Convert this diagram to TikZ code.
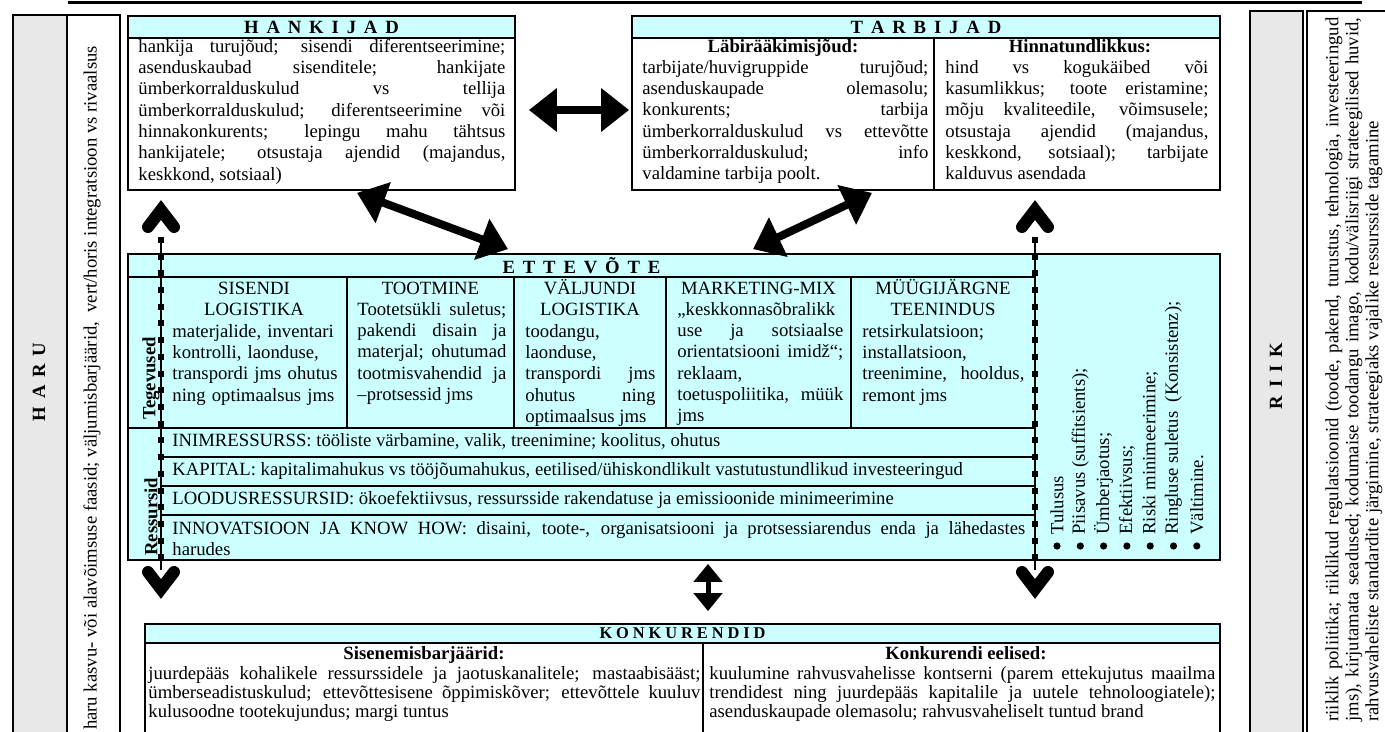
\documentclass[tikz,border=0pt]{standalone}
\usepackage{fontspec}
\setmainfont{Liberation Serif}
\usetikzlibrary{arrows.meta}
\definecolor{lightcyan}{RGB}{204,255,255}
\definecolor{sidegray}{RGB}{232,232,232}
\newcommand{\bodyfont}{\fontsize{9.35}{10.65}\selectfont}
\newcommand{\riikfont}{\fontsize{9.35}{10}\selectfont}
\newcommand{\konfont}{\fontsize{9.35}{9.6}\selectfont}
\newcommand{\hdrfont}{\fontsize{9.35}{10.65}\selectfont\bfseries\spaceskip=0.42em\relax}
\newcommand{\konhdrfont}{\fontsize{8.2}{9}\selectfont\bfseries\spaceskip=0.24em\relax}

\begin{document}
\begin{tikzpicture}[x=0.5pt,y=-0.5pt,
  box/.style={draw, line width=0.9pt, inner sep=0pt},
  band/.style={draw, line width=0.9pt, fill=lightcyan, inner sep=0pt, anchor=north, font=\hdrfont},
  txt/.style={inner sep=0pt, anchor=north west, align=justify, font=\bodyfont},
  colhead/.style={inner sep=0pt, anchor=north, align=center, font=\bodyfont},
  subhead/.style={inner sep=0pt, anchor=north, font=\bodyfont\bfseries},
  rule/.style={line width=0.75pt},
  squares/.style={line width=3pt, dash pattern=on 3pt off 5.35pt},
  chevron/.style={line width=6pt, line cap=round, line join=miter},
  bigarrow/.style={line width=4pt, {Triangle[length=14pt,width=21pt]}-{Triangle[length=14pt,width=21pt]}},
  smallarrow/.style={line width=2.5pt, {Triangle[length=9pt,width=14pt]}-{Triangle[length=9pt,width=14pt]}},
  dot/.style={circle, fill, inner sep=0pt, minimum size=3.6pt}]
  \useasboundingbox (0,0) rectangle (1385,732);
  \draw[line width=1.5pt] (68,3) -- (1362,3);

  \node[box, fill=sidegray, minimum width=27pt, minimum height=365pt] (haru) at (40,380) {};
  \node[box, minimum width=26.5pt, minimum height=365pt] (harubox) at (93.5,380) {};
  \node[rotate=90, inner sep=0pt, font=\hdrfont] (harulabel) at (39,382) {H A R U};
  \node[rotate=90, inner sep=0pt, font=\bodyfont] (harutext) at (92,388) {haru kasvu- või alavõimsuse faasid; väljumisbarjäärid,\ \ vert/horis integratsioon vs rivaalsus};

  \node[box, fill=sidegray, minimum width=26.5pt, minimum height=367pt] (riik) at (1276.5,378) {};
  \node[box, minimum width=40.5pt, minimum height=367pt] (riikbox) at (1347.5,378) {};
  \node[rotate=90, inner sep=0pt, font=\hdrfont] (riiklabel) at (1276,376) {R I I K};
  \node[txt, rotate=90, text width=352pt, font=\riikfont] (riiktext) at (1324,722) {\strut riiklik poliitika; riiklikud regulatsioonid (toode, pakend, turustus, tehnologia, investeeringud\linebreak jms), kirjutamata seadused; kodumaise toodangu imago, kodu/välisriigi strateegilised huvid,\linebreak rahvusvaheliste standardite järgimine, strateegiaks vajalike ressursside tagamine};

  \node[box, minimum width=193.5pt, minimum height=87pt] (hankijad) at (321.5,103) {};
  \node[band, minimum width=193.5pt, minimum height=11pt] (hankijadhdr) at (hankijad.north) {H A N K I J A D};
  \node[txt, text width=183.5pt] (hankijadtxt) at (138,37) {\strut hankija turujõud; sisendi diferentseerimine;\linebreak asenduskaubad sisenditele; hankijate\linebreak ümberkorralduskulud vs tellija\linebreak ümberkorralduskulud; diferentseerimine või\linebreak hinnakonkurents; lepingu mahu tähtsus\linebreak hankijatele; otsustaja ajendid (majandus,\linebreak keskkond, sotsiaal)};

  \node[box, minimum width=294pt, minimum height=87pt] (tarbijad) at (926,103) {};
  \node[band, minimum width=294pt, minimum height=11pt] (tarbijadhdr) at (tarbijad.north) {T A R B I J A D};
  \draw[rule] (934,38) -- (934,190);
  \node[subhead] (labihead) at (783,37) {\strut Läbirääkimisjõud:};
  \node[txt, text width=143pt] (labitxt) at (642,58) {\strut tarbijate/huvigruppide turujõud;\linebreak asenduskaupade olemasolu;\linebreak konkurents; tarbija\linebreak ümberkorralduskulud vs ettevõtte\linebreak ümberkorralduskulud; info\linebreak valdamine tarbija poolt.};
  \node[subhead] (hinnahead) at (1080,37) {\strut Hinnatundlikkus:};
  \node[txt, text width=131.5pt] (hinnatxt) at (945,58) {\strut hind vs kogukäibed või\linebreak kasumlikkus; toote eristamine;\linebreak mõju kvaliteedile, võimsusele;\linebreak otsustaja ajendid (majandus,\linebreak keskkond, sotsiaal); tarbijate\linebreak kalduvus asendada};

  \node[box, fill=lightcyan, minimum width=546pt, minimum height=153pt] (ettevote) at (674,407) {};
  \node[inner sep=0pt, font=\hdrfont] (ettevotehdr) at (581.5,265.5) {E T T E V Õ T E};
  \draw[rule] (128,277) -- (1035,277);
  \draw[rule] (128,428) -- (1035,428);
  \foreach \y in {457,486,515}
  {
  \draw[rule] (161,\y) -- (1035,\y);
  }
  \foreach \x in {347,514,666,851}
  {
  \draw[rule] (\x,277) -- (\x,428);
  }
  \node[rotate=90, anchor=west, inner sep=0pt, font=\bodyfont\bfseries] (tegevused) at (151,420) {Tegevused};
  \node[rotate=90, anchor=west, inner sep=0pt, font=\bodyfont\bfseries] (ressursid) at (151,556) {Ressursid};

  \node[colhead] (sisendihead) at (254,279) {\strut SISENDI\\LOGISTIKA};
  \node[txt, align=left, text width=84pt] (sisenditxt) at (172,322) {\strut materjalide, inventari\\kontrolli, laonduse,\\transpordi jms ohutus\\ning optimaalsus jms};
  \node[colhead] (tootminehead) at (430.5,279) {\strut TOOTMINE};
  \node[txt, text width=74.5pt] (tootminetxt) at (357,300) {\strut Tootetsükli suletus;\linebreak pakendi disain ja\linebreak materjal; ohutumad\linebreak tootmisvahendid ja\linebreak –protsessid jms};
  \node[colhead] (valjundihead) at (590,279) {\strut VÄLJUNDI\\LOGISTIKA};
  \node[txt, text width=65pt] (valjunditxt) at (525,322) {\strut toodangu,\linebreak laonduse,\linebreak transpordi jms\linebreak ohutus ning\linebreak optimaalsus jms};
  \node[colhead] (marketinghead) at (758.5,279) {\strut MARKETING-MIX};
  \node[txt, text width=83pt] (marketingtxt) at (677,300) {\strut „keskkonnasõbralikk\linebreak use ja sotsiaalse\linebreak orientatsiooni imidž“;\linebreak reklaam,\linebreak toetuspoliitika, müük\linebreak jms};
  \node[colhead] (muugihead) at (943,279) {\strut MÜÜGIJÄRGNE\\TEENINDUS};
  \node[txt, text width=81pt] (muugitxt) at (862,322) {\strut retsirkulatsioon;\linebreak installatsioon,\linebreak treenimine, hooldus,\linebreak remont jms};

  \node[txt, anchor=west] (inim) at (172,442.5) {\strut INIMRESSURSS: tööliste värbamine, valik, treenimine; koolitus, ohutus};
  \node[txt, anchor=west] (kapital) at (172,471.5) {\strut KAPITAL: kapitalimahukus vs tööjõumahukus, eetilised/ühiskondlikult vastutustundlikud investeeringud};
  \node[txt, anchor=west] (loodus) at (172,500.5) {\strut LOODUSRESSURSID: ökoefektiivsus, ressursside rakendatuse ja emissioonide minimeerimine};
  \node[txt, text width=426.5pt] (innov) at (172,519) {\strut INNOVATSIOON JA KNOW HOW: disaini, toote-, organisatsiooni ja protsessiarendus enda ja lähedastes\linebreak harudes};

  \foreach \i/\lbl in {0/Tulusus, 1/{Piisavus (suffitsients);}, 2/{Ümberjaotus;}, 3/{Efektiivsus;}, 4/{Riski minimeerimine;}, 5/{Ringluse suletus\ \ (Konsistenz);}, 6/{Vältimine.}}
  {
  \node[rotate=90, anchor=west, inner sep=0pt, font=\bodyfont] (goal\i) at (1057+23.3*\i,535) {\lbl};
  \node[dot] (dot\i) at (1057+23.3*\i,546) {};
  }

  \foreach \x in {161,1035}
  {
  \draw[line width=0.75pt] (\x,237) -- (\x,570);
  \draw[squares] (\x,237) -- (\x,570);
  \draw[chevron] (\x-13,227) -- (\x,210) -- (\x+13,227);
  \draw[chevron] (\x-13,572) -- (\x,589) -- (\x+13,572);
  }

  \node[box, minimum width=537.5pt, minimum height=60.5pt] (konkurendid) at (682.5,684.5) {};
  \node[band, minimum width=537.5pt, minimum height=9.5pt, font=\konhdrfont] (konkurendidhdr) at (konkurendid.north) {K O N K U R E N D I D};
  \draw[rule] (703,643) -- (703,745);
  \node[subhead, font=\konfont\bfseries] (sisenehead) at (424,645.5) {\strut Sisenemisbarjäärid:};
  \node[txt, font=\konfont, text width=276pt] (sisenetxt) at (148,665.5) {\strut juurdepääs kohalikele ressurssidele ja jaotuskanalitele; mastaabisääst;\linebreak ümberseadistuskulud; ettevõttesisene õppimiskõver; ettevõttele kuuluv\linebreak kulusoodne tootekujundus; margi tuntus};
  \node[subhead, font=\konfont\bfseries] (eelisedhead) at (966,645.5) {\strut Konkurendi eelised:};
  \node[txt, font=\konfont, text width=253pt] (eelisedtxt) at (709,665.5) {\strut kuulumine rahvusvahelisse kontserni (parem ettekujutus maailma\linebreak trendidest ning juurdepääs kapitalile ja uutele tehnoloogiatele);\linebreak asenduskaupade olemasolu; rahvusvaheliselt tuntud brand};

  \draw[bigarrow] ([xshift=6.5pt,yshift=-3.5pt]hankijad.east) -- ([xshift=-1pt,yshift=-3.5pt]tarbijad.west);
  \draw[bigarrow] ([xshift=17.75pt,yshift=-1pt]hankijad.south) -- ([xshift=-83pt,yshift=2pt]ettevote.north);
  \draw[bigarrow] ([xshift=-27pt,yshift=-1pt]tarbijad.south) -- ([xshift=39.5pt,yshift=2pt]ettevote.north);
  \draw[smallarrow] ([xshift=17pt,yshift=-1.5pt]ettevote.south) -- ([xshift=12.75pt,yshift=6pt]konkurendid.north);
\end{tikzpicture}
\end{document}
